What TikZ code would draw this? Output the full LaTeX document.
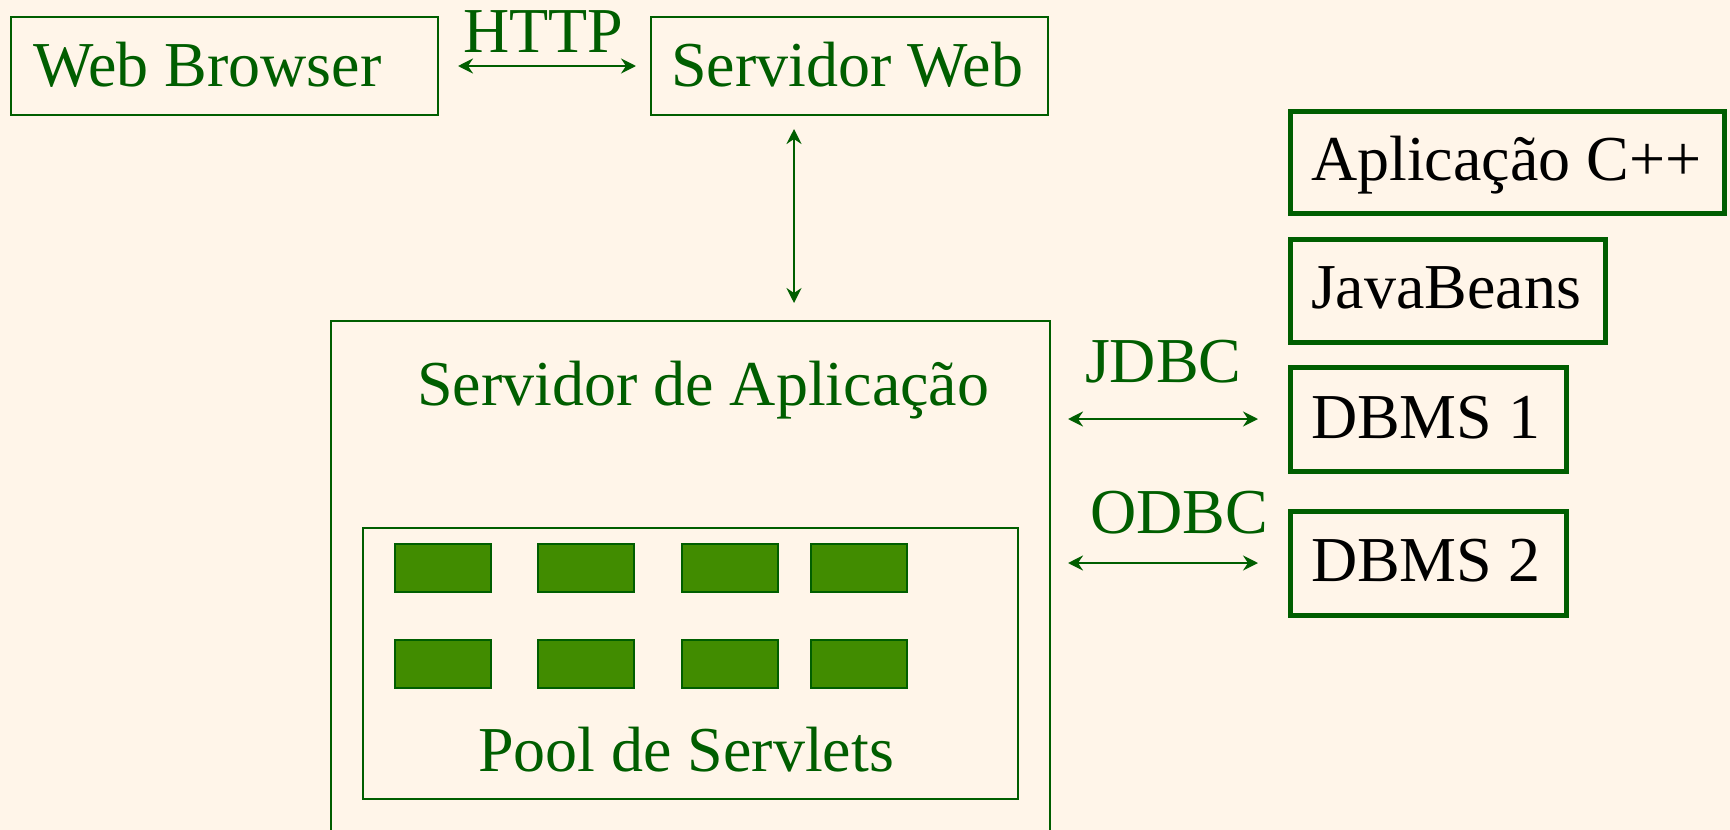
\documentclass[tikz,border=0pt]{standalone}
\usepackage{fontspec}
\setmainfont{Liberation Serif}
\usetikzlibrary{arrows.meta,calc}
\definecolor{bg}{RGB}{255,245,233}
\definecolor{dg}{RGB}{0,94,0}
\definecolor{sf}{RGB}{65,140,0}
\begin{document}
\begin{tikzpicture}[x=1pt,y=-1pt,
  every node/.style={inner sep=0pt,outer sep=0pt},
  thinbox/.style={draw=dg,line width=2.5pt,rectangle},
  thickbox/.style={draw=dg,line width=5pt,rectangle},
  servlet/.style={draw=dg,fill=sf,line width=2.5pt,rectangle,minimum width=96pt,minimum height=48pt},
  gtxt/.style={anchor=base west,text=dg,font=\fontsize{64}{70}\selectfont},
  ktxt/.style={anchor=base west,text=black,font=\fontsize{64}{70}\selectfont},
  arr/.style={line width=2.5pt,draw=dg,{Stealth[length=15pt,width=15pt,inset=5pt]}-{Stealth[length=15pt,width=15pt,inset=5pt]}}
]
\fill[bg] (0,0) rectangle (1730,830);
\useasboundingbox (0,0) rectangle (1730,830);
\clip (0,0) rectangle (1730,830);

% boxes
\node[thinbox,minimum width=427pt,minimum height=98pt] (wb) at (224.5,66) {};
\node[thinbox,minimum width=397pt,minimum height=98pt] (sw) at (849.5,66) {};
\node[thinbox,minimum width=719pt,minimum height=539pt] (app) at (690.5,590.5) {};
\node[thinbox,minimum width=655pt,minimum height=271pt] (pool) at (690.5,663.5) {};
\node[thickbox,minimum width=434pt,minimum height=102pt] (cpp) at (1507,162) {};
\node[thickbox,minimum width=315pt,minimum height=103pt] (jb) at (1447.5,290.5) {};
\node[thickbox,minimum width=276pt,minimum height=104pt] (db1) at (1428,419) {};
\node[thickbox,minimum width=276pt,minimum height=104pt] (db2) at (1428,563) {};

% servlets
\foreach \i/\x in {1/443,2/586,3/730,4/859}{
  \node[servlet] (sa\i) at (\x,568) {};
  \node[servlet] (sb\i) at (\x,664) {};
}

% texts
\node[gtxt] (twb) at (33,86) {Web Browser};
\node[gtxt] (thttp) at (463,52) {HTTP};
\node[gtxt] (tsw) at (671,86) {Servidor Web};
\node[gtxt] (tapp) at (417,405) {Servidor de Aplicação};
\node[gtxt] (tpool) at (478,771) {Pool de Servlets};
\node[ktxt] (tcpp) at (1311,180) {Aplicação C++};
\node[ktxt] (tjb) at (1311,308) {JavaBeans};
\node[ktxt] (tdb1) at (1311,438) {DBMS 1};
\node[ktxt] (tdb2) at (1311,581) {DBMS 2};
\node[gtxt] (tjdbc) at (1085,382) {JDBC};
\node[gtxt] (todbc) at (1090,533) {ODBC};

% connectors
\draw[arr,shorten <=20pt,shorten >=15pt] (wb.east) -- (sw.west);
\path ([xshift=-55.5pt]sw.south) coordinate (vtop);
\draw[arr,shorten <=14pt,shorten >=18pt] (vtop) -- (vtop |- app.north);
\draw[arr,shorten <=18pt,shorten >=32pt] (db1.west -| app.east) -- (db1.west);
\draw[arr,shorten <=18pt,shorten >=32pt] (db2.west -| app.east) -- (db2.west);
\end{tikzpicture}
\end{document}
